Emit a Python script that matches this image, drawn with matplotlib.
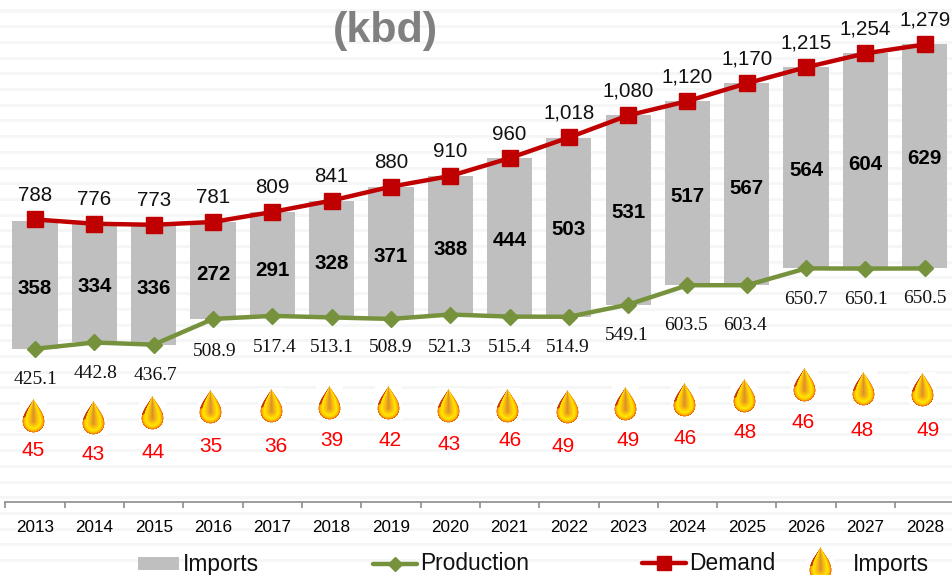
import numpy as np
import matplotlib
matplotlib.use("Agg")
import matplotlib.pyplot as plt
from matplotlib.lines import Line2D
from matplotlib.patches import Rectangle
from matplotlib.offsetbox import OffsetImage, AnnotationBbox

W, H = 953, 575

years = [2013, 2014, 2015, 2016, 2017, 2018, 2019, 2020, 2021, 2022, 2023, 2024, 2025, 2026, 2027, 2028]
demand = [788, 776, 773, 781, 809, 841, 880, 910, 960, 1018, 1080, 1120, 1170, 1215, 1254, 1279]
production = [425.1, 442.8, 436.7, 508.9, 517.4, 513.1, 508.9, 521.3, 515.4, 514.9, 549.1, 603.5, 603.4, 650.7, 650.1, 650.5]
imports = [358, 334, 336, 272, 291, 328, 371, 388, 444, 503, 531, 517, 567, 564, 604, 629]
import_share = [45, 43, 44, 35, 36, 39, 42, 43, 46, 49, 49, 46, 48, 46, 48, 49]

# hand placed label spots, in pixels of the picture
imports_label_y = [288, 286, 288, 274, 270, 263, 256, 250, 241, 229, 213, 196, 189, 171, 165, 158]
prod_label_x = [36, 96, 156, 215, 275, 332, 391, 450, 510, 568, 627, 686, 745, 806, 866, 925]
prod_label_y = [380, 374, 375, 351, 348, 348, 347, 347, 347, 347, 335, 325, 325, 300, 300, 298]
drop_x = [33, 94, 153, 211, 271, 330, 389, 449, 508, 567, 626, 685, 745, 804, 864, 923]
drop_y = [415, 418, 412, 407, 406, 403, 402, 405, 405, 407, 404, 400, 396, 384, 389, 390]
share_x = [33, 93, 153, 211, 276, 332, 390, 449, 510, 563, 628, 685, 745, 803, 862, 928]
share_y = [450, 455, 453, 446, 447, 441, 441, 444, 441, 447, 441, 438, 433, 423, 430, 431]

GREY = "#BFBFBF"
RED = "#C00000"
GREEN = "#76923C"
SANS = "Liberation Sans"
SERIF = "Liberation Serif"
ZERO_Y = 500.3  # pixel row of value 0


def fx(x):
    return x / W


def fy(y):
    return 1 - y / H


def make_drop():
    # small oil drop picture on a white box, 4x oversampled
    ss = 4
    box_w, box_h = 27 * ss, 35 * ss
    yy, xx = np.mgrid[0:box_h, 0:box_w]
    x = (xx + 0.5) / ss - 13.5
    y = (yy + 0.5) / ss - 17.5
    tip, belly, r = -17.0, 6.0, 11.0
    t = np.clip((y - tip) / (belly - tip), 0, 1)
    half = r * np.sin(t * np.pi / 2) ** 1.25
    d_top = np.abs(x) / np.maximum(half, 1e-3)
    d_low = np.hypot(x, y - belly) / r
    d = np.where(y < belly, d_top, d_low)
    d = np.where(y < tip, 2, d)
    stops = [0, 0.3, 0.62, 0.85, 0.97, 1.0]
    reds = [218, 250, 255, 255, 235, 215]
    greens = [145, 185, 232, 180, 110, 80]
    blues = [45, 15, 0, 0, 5, 10]
    img = np.ones((box_h, box_w, 3))
    inside = d <= 1
    img[..., 0][inside] = np.interp(d[inside], stops, reds) / 255
    img[..., 1][inside] = np.interp(d[inside], stops, greens) / 255
    img[..., 2][inside] = np.interp(d[inside], stops, blues) / 255
    # darker red along the upper left side
    edge = inside & (d > 0.78) & (x < 0) & (y < belly - 4)
    img[edge] = [0.8, 0.22, 0.05]
    return img, ss


def put_drop(fig, img, ss, x, y):
    box = OffsetImage(img, zoom=0.72 / ss, interpolation="antialiased")
    ab = AnnotationBbox(box, (fx(x), fy(y)), xycoords="figure fraction", frameon=False, pad=0,
                        annotation_clip=False, zorder=6)
    fig.add_artist(ab)


fig = plt.figure(figsize=(W / 100, H / 100), dpi=100, facecolor="white")

# faint stripes behind everything
for y in np.arange(11, H, 15.7):
    fig.add_artist(Rectangle((0, fy(y + 1.5)), 1, 3 / H, transform=fig.transFigure,
                             facecolor="#F5F7F7", edgecolor="none", zorder=-1))

ax = fig.add_axes([fx(5.4), fy(ZERO_Y), 949 / W, ZERO_Y / H])
ax.patch.set_visible(False)
xs = np.arange(len(years))
ax.set_xlim(-0.5, 15.5)
ax.set_ylim(0, ZERO_Y / 0.3564)

ax.bar(xs, imports, width=0.763, bottom=production, color=GREY, zorder=2)
ax.plot(xs, production, color=GREEN, lw=3.2, marker="D", ms=8.5, zorder=3, solid_capstyle="round")
ax.plot(xs, demand, color=RED, lw=3.2, marker="s", ms=11, zorder=4, solid_capstyle="round")

for sp in ["top", "left", "right"]:
    ax.spines[sp].set_visible(False)
ax.spines["bottom"].set_color("#8C8C8C")
ax.spines["bottom"].set_linewidth(1.2)
ax.spines["bottom"].set_position(("outward", 0.9))
ax.set_yticks([])
ax.set_xticks(xs)
ax.set_xticklabels(years, fontsize=12.3, fontfamily=SANS, color="black")
ax.set_xticks(np.arange(-0.5, 16, 1), minor=True)
ax.tick_params(axis="x", which="major", length=0, pad=13)
ax.tick_params(axis="x", which="minor", length=4, width=1.2, color="#8C8C8C")

for i in xs:
    ax.annotate(f"{demand[i]:,}", (i, demand[i]), xytext=(0, 24 * 0.72), textcoords="offset points",
                ha="center", va="center", fontsize=14.8, fontfamily=SANS, color="#111111", zorder=5)
    fig.text(fx(5.4 + 59.31 * (i + 0.5)), fy(imports_label_y[i]), str(imports[i]), ha="center", va="center",
             fontsize=14.8, fontweight="bold", fontfamily=SANS, color="black")
    fig.text(fx(prod_label_x[i]), fy(prod_label_y[i]), f"{production[i]:.1f}", ha="center", va="center",
             fontsize=14, fontfamily=SERIF, color="#111111")
    fig.text(fx(share_x[i]), fy(share_y[i]), str(import_share[i]), ha="center", va="center",
             fontsize=15, fontfamily=SANS, color="#FF0000")

drop_img, drop_ss = make_drop()
for i in xs:
    put_drop(fig, drop_img, drop_ss, drop_x[i], drop_y[i])

# title, the line above it is cut off in the picture
fig.text(fx(385), fy(31), "(kbd)", ha="center", va="center", fontsize=31, fontweight="bold",
         fontfamily=SANS, color="#808080")

# legend pieces
fig.add_artist(Rectangle((fx(138), fy(570)), 41 / W, 13 / H, transform=fig.transFigure,
                         facecolor=GREY, edgecolor="none", zorder=2))
fig.add_artist(Line2D([fx(373), fx(417)], [fy(564), fy(564)], transform=fig.transFigure, color=GREEN, lw=3.2,
                      solid_capstyle="round", zorder=2))
fig.add_artist(Line2D([fx(395)], [fy(564)], transform=fig.transFigure, color=GREEN, marker="D", ms=7.5, zorder=2))
fig.add_artist(Line2D([fx(642), fx(686)], [fy(563), fy(563)], transform=fig.transFigure, color=RED, lw=3.2,
                      solid_capstyle="round", zorder=2))
fig.add_artist(Line2D([fx(664)], [fy(563)], transform=fig.transFigure, color=RED, marker="s", ms=10, zorder=2))
put_drop(fig, drop_img, drop_ss, 821, 564)
for x, name in [(183, "Imports"), (420, "Production"), (689, "Demand"), (853, "Imports")]:
    fig.text(fx(x), fy(564), name, ha="left", va="center", fontsize=16.4, fontfamily=SANS, color="#111111")

fig.savefig("out.png", dpi=100)
